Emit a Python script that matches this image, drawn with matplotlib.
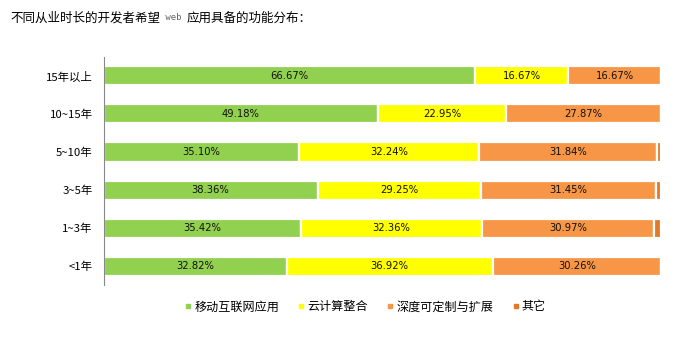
import numpy as np
import matplotlib.pyplot as plt
from matplotlib.lines import Line2D

plt.rcParams['font.family'] = ['Noto Sans CJK SC', 'DejaVu Sans']

groups = ['15年以上', '10~15年', '5~10年', '3~5年', '1~3年', '<1年']
series = ['移动互联网应用', '云计算整合', '深度可定制与扩展', '其它']
mobile = [66.67, 49.18, 35.10, 38.36, 35.42, 32.82]
cloud = [16.67, 22.95, 32.24, 29.25, 32.36, 36.92]
custom = [16.67, 27.87, 31.84, 31.45, 30.97, 30.26]
other = [0.0, 0.0, 0.82, 0.94, 1.25, 0.0]
colors = ['#92D050', '#FFFF00', '#F79646', '#E0792A']

fig = plt.figure(figsize=(6.96, 3.41), dpi=100)
ax = fig.add_axes([0.149, 0.164, 0.801, 0.669])

y = np.arange(len(groups))
left = np.zeros(len(groups))
for vals, c, name in zip([mobile, cloud, custom, other], colors, series):
    vals = np.array(vals)
    ax.barh(y, vals, left=left, height=0.5, color=c, edgecolor='white',
            linewidth=1.6, label=name)
    for yi, l, v in zip(y, left, vals):
        if v > 5:
            ax.text(l + v / 2, yi, f'{v:.2f}%', ha='center', va='center',
                    fontsize=7.2, family='DejaVu Sans', color='#111111')
    left += vals

ax.set_xlim(0, 100)
ax.set_ylim(len(groups) - 0.5, -0.5)
ax.set_yticks(y)
ax.set_yticklabels(groups, fontsize=8.2)
ax.tick_params(axis='y', length=0, pad=8)
ax.set_xticks([])
for s in ['top', 'right', 'bottom']:
    ax.spines[s].set_visible(False)
ax.spines['left'].set_color('#888888')

# title in three pieces, the "web" part in a small monospace font
fig.canvas.draw()
r = fig.canvas.get_renderer()
x = 10
for s, kw in [('不同从业时长的开发者希望', dict(fontsize=9)),
              (' web ', dict(fontsize=6.5, family='DejaVu Sans Mono', color='#666666')),
              ('应用具备的功能分布：', dict(fontsize=9))]:
    t = fig.text(x / 696, 1 - 18 / 341, s, va='center', **kw)
    x += t.get_window_extent(r).width

handles = [Line2D([], [], marker='s', linestyle='', color=c, markersize=3.5) for c in colors]
fig.legend(handles, series, loc='center', bbox_to_anchor=(0.524, 0.1), ncol=4,
           frameon=False, fontsize=8.7, handletextpad=0.1, columnspacing=1.45,
           handlelength=0.8)

fig.savefig('out.png', dpi=100)
